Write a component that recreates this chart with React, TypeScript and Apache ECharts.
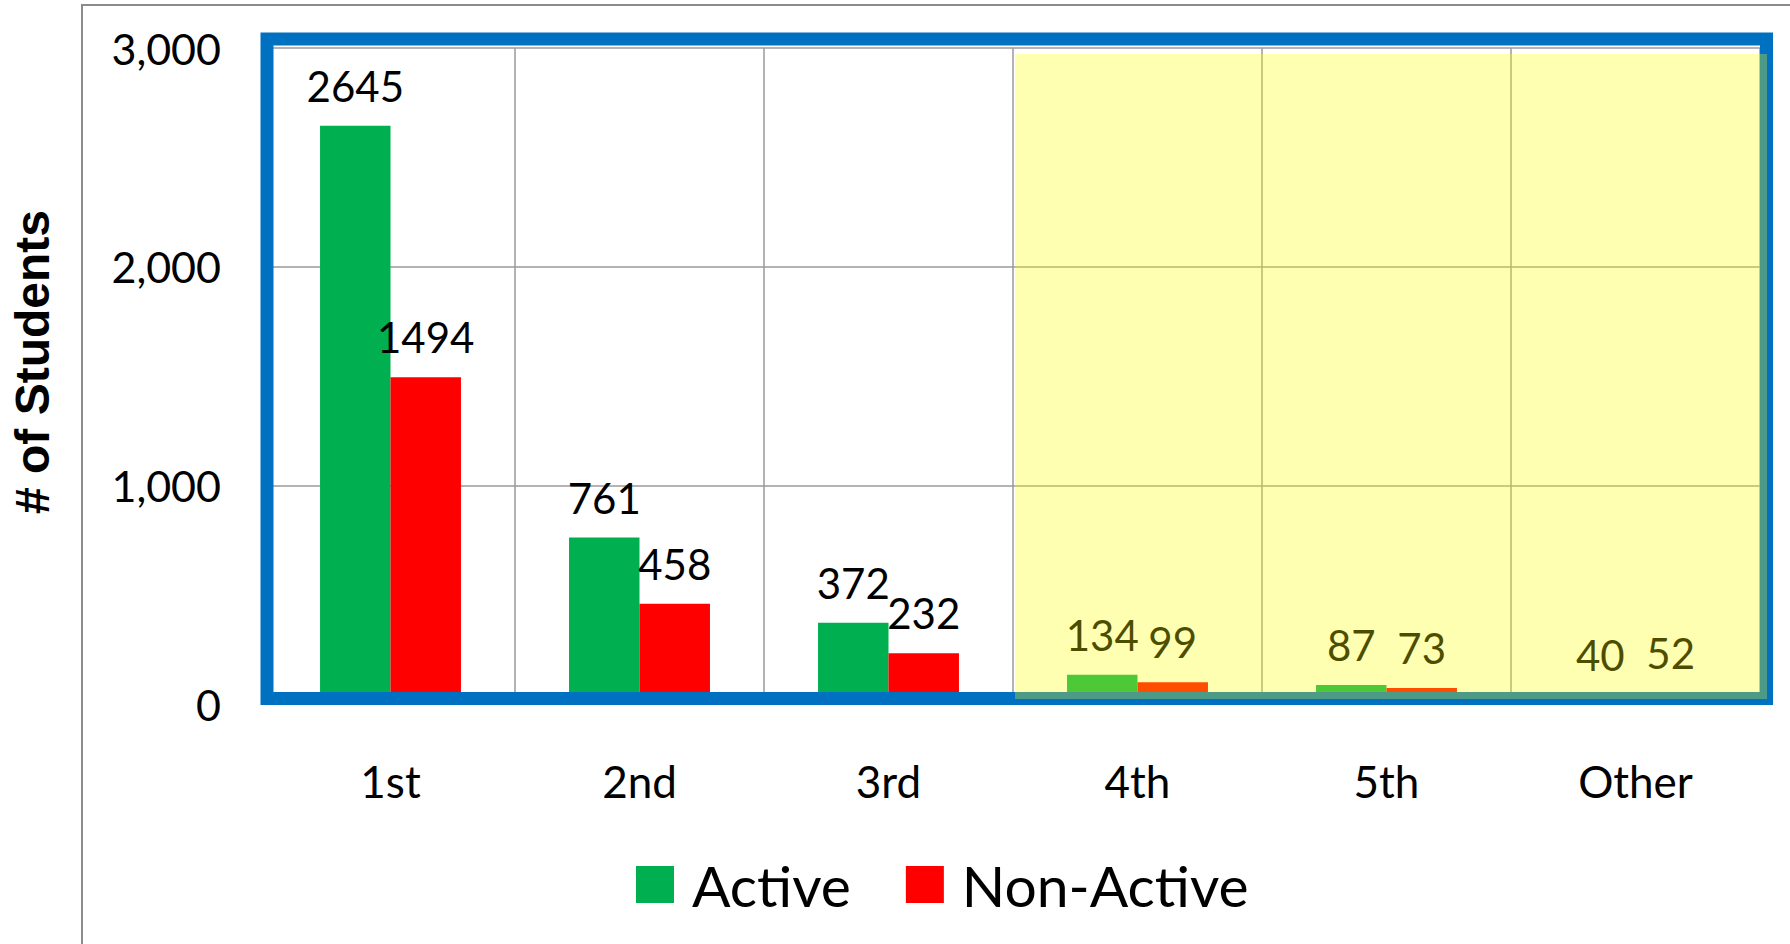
import { useEffect, useRef } from "react";
import * as echarts from "echarts";

const categories = ["1st", "2nd", "3rd", "4th", "5th", "Other"];
const activeValues = [2645, 761, 372, 134, 87, 40];
const nonActiveValues = [1494, 458, 232, 99, 73, 52];
const seriesNames = ["Active", "Non-Active"];
const seriesColors = ["#00b050", "#ff0000"];
const yAxisMin = 0;
const yAxisMax = 3000;
const yAxisStep = 1000;
const yAxisTitle = "# of Students";
const highlightFrom = "4th";

export default function App() {
  const ref = useRef<HTMLDivElement>(null);
  useEffect(() => {
    const chart = echarts.init(ref.current!, null, { renderer: "svg" });
    const FONT = "Lato";
    const labelStyle = {
      show: true,
      position: "top",
      distance: 19,
      fontFamily: FONT,
      fontSize: 42,
      color: "#000000",
    };
    const option: any = {
      animation: false,
      backgroundColor: "#ffffff",
      grid: { left: 266, right: 30, top: 48, bottom: 240 },
      legend: {
        data: seriesNames,
        left: 636,
        top: 856,
        padding: 0,
        icon: "rect",
        itemWidth: 38,
        itemHeight: 37,
        itemGap: 55,
        textStyle: {
          fontFamily: FONT,
          fontSize: 57,
          color: "#000000",
          padding: [0, 0, 0, 13],
        },
      },
      xAxis: {
        type: "category",
        data: categories,
        axisLine: { show: false },
        axisTick: { show: false },
        axisLabel: { margin: 55, fontFamily: FONT, fontSize: 44, color: "#000000" },
        splitLine: { show: true, lineStyle: { color: "#9a9a9a", width: 1.5 } },
      },
      yAxis: {
        type: "value",
        min: yAxisMin,
        max: yAxisMax,
        interval: yAxisStep,
        axisLine: { show: false },
        axisTick: { show: false },
        axisLabel: {
          margin: 45,
          fontFamily: FONT,
          fontSize: 43,
          color: "#000000",
          formatter: (v: number) => v.toLocaleString("en-US"),
        },
        splitLine: { show: true, lineStyle: { color: "#9a9a9a", width: 1.5 } },
      },
      series: [
        {
          name: seriesNames[0],
          type: "bar",
          data: activeValues,
          barGap: "0%",
          barCategoryGap: "43.4%",
          itemStyle: { color: seriesColors[0] },
          label: labelStyle,
        },
        {
          name: seriesNames[1],
          type: "bar",
          data: nonActiveValues,
          barGap: "0%",
          barCategoryGap: "43.4%",
          itemStyle: { color: seriesColors[1] },
          label: labelStyle,
        },
      ],
    };
    chart.setOption(option);

    const idx = categories.indexOf(highlightFrom);
    const xa = chart.convertToPixel({ xAxisIndex: 0 }, categories[0]) as number;
    const xb = chart.convertToPixel({ xAxisIndex: 0 }, categories[1]) as number;
    const band = xb - xa;
    const gridLeft = xa - band / 2;
    const gridRight = gridLeft + band * categories.length;
    const hlLeft = gridLeft + band * idx;
    const yTop = chart.convertToPixel({ yAxisIndex: 0 }, yAxisMax) as number;
    const yZero = chart.convertToPixel({ yAxisIndex: 0 }, yAxisMin) as number;

    const frameL = gridLeft + 1;
    const frameR = gridRight + 6.5;
    const frameT = yTop - 9;
    const frameB = yZero - 5.5;

    chart.setOption({
      graphic: [
        {
          type: "polyline",
          z: 1,
          shape: { points: [[82, 944], [82, 5], [1790, 5]] },
          style: { stroke: "#8c8c8c", lineWidth: 2, fill: null },
        },
        {
          type: "rect",
          z: 50,
          shape: {
            x: frameL,
            y: frameT,
            width: frameR - frameL,
            height: frameB - frameT,
          },
          style: { stroke: "#0070c0", lineWidth: 13, fill: null },
        },
        {
          type: "rect",
          z: 60,
          shape: {
            x: hlLeft + 2,
            y: yTop + 6,
            width: gridRight + 7 - (hlLeft + 2),
            height: yZero - 5 - (yTop + 6),
          },
          style: { fill: "rgba(255,255,0,0.3)", stroke: null },
        },
        {
          type: "text",
          z: 60,
          x: 32,
          y: 362,
          rotation: Math.PI / 2,
          style: {
            text: yAxisTitle,
            fontFamily: "Liberation Sans",
            fontWeight: "bold",
            fontSize: 48,
            fill: "#000000",
            align: "center",
            verticalAlign: "middle",
          },
        },
      ],
    });
    return () => chart.dispose();
  }, []);
  return (
    <div
      ref={ref}
      style={{ position: "absolute", left: 0, top: 0, width: 1790, height: 944 }}
    />
  );
}
